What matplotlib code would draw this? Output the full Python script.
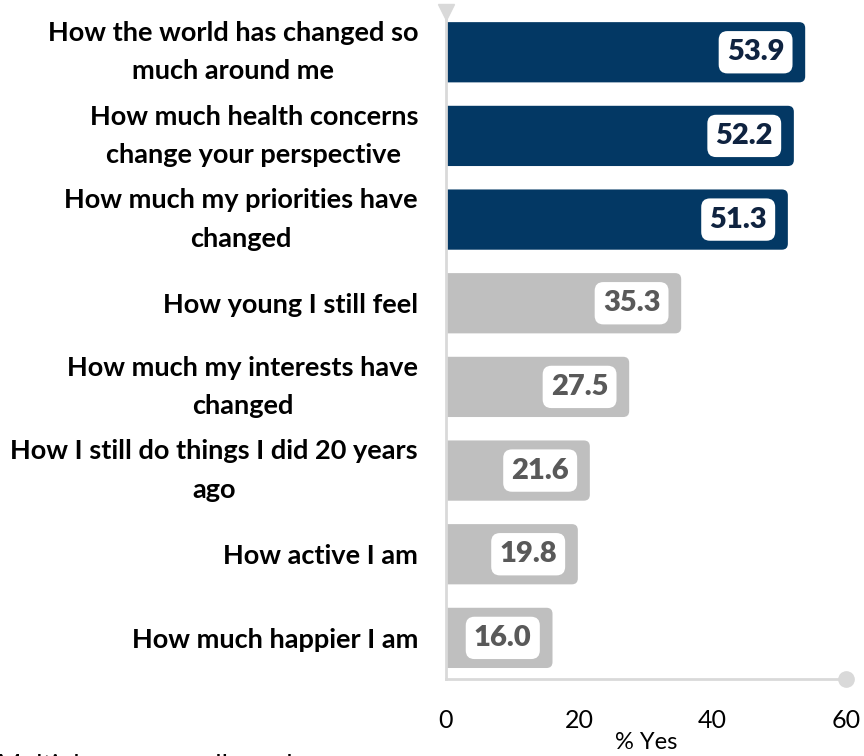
import matplotlib
matplotlib.use("Agg")
import matplotlib.pyplot as plt
from matplotlib.patches import FancyBboxPatch

plt.rcParams['font.family'] = ['Lato', 'DejaVu Sans']

categories = [
    "How the world has changed so\nmuch around me",
    "How much health concerns\nchange your perspective",
    "How much my priorities have\nchanged",
    "How young I still feel",
    "How much my interests have\nchanged",
    "How I still do things I did 20 years\nago",
    "How active I am",
    "How much happier I am",
]
values = [53.9, 52.2, 51.3, 35.3, 27.5, 21.6, 19.8, 16.0]
highlight = [True, True, True, False, False, False, False, False]
x_ticks = [0, 20, 40, 60]

NAVY = "#033864"
GRAY = "#bfbfbf"
AXIS = "#d9d9d9"

fig = plt.figure(figsize=(8.64, 7.56), dpi=100)
ax = fig.add_axes([0.516, 0.102, 0.463, 0.882])

xmin, xmax = 0, 60
ymin, ymax = 7.49, -0.48
ax.set_xlim(xmin, xmax)
ax.set_ylim(ymin, ymax)

# rounded bar corners: convert a pixel radius to data units on each axis
ax_w_px = 0.463 * 864
ax_h_px = 0.882 * 756
x_per_px = (xmax - xmin) / ax_w_px
y_per_px = abs(ymin - ymax) / ax_h_px
radius_px = 6
bar_h = 0.72

for i, (v, hi) in enumerate(zip(values, highlight)):
    color = NAVY if hi else GRAY
    patch = FancyBboxPatch(
        (-3, i - bar_h / 2), v + 3, bar_h,
        boxstyle=f"round,pad=0,rounding_size={radius_px * x_per_px}",
        mutation_aspect=y_per_px / x_per_px,
        fc=color, ec="none", zorder=2,
    )
    ax.add_patch(patch)
    ax.annotate(
        f"{v:.1f}", xy=(v, i), xytext=(-15, 0), textcoords="offset points",
        ha="right", va="center", fontsize=21, fontweight="heavy",
        color="#0f2340" if hi else "#595959", zorder=4,
        bbox=dict(boxstyle="round,pad=0.28,rounding_size=0.3", fc="white", ec="none"),
    )

ax.set_yticks(range(len(categories)))
ax.set_yticklabels(categories, fontsize=19.5, fontweight="bold",
                   multialignment="center", linespacing=1.72)
for lbl in ax.get_yticklabels():
    if "\n" in lbl.get_text():
        lbl.set_verticalalignment("center")
ax.tick_params(axis="y", length=0, pad=20)

ax.set_xticks(x_ticks)
ax.set_xticklabels([str(t) for t in x_ticks], fontsize=18)
ax.tick_params(axis="x", length=0, pad=22)
ax.set_xlabel("% Yes", fontsize=17, labelpad=0)

for side in ("top", "right"):
    ax.spines[side].set_visible(False)
for side in ("left", "bottom"):
    ax.spines[side].set_color(AXIS)
    ax.spines[side].set_linewidth(2)
    ax.spines[side].set_zorder(3)

ax.plot([0], [ymax], marker="v", markersize=11, color=AXIS, clip_on=False, zorder=5)
ax.plot([xmax], [ymin], marker="o", markersize=11, color=AXIS, clip_on=False, zorder=5)

fig.text(-0.003, 0.002, "Multiple answers allowed", fontsize=19, ha="left", va="top")

fig.savefig("out.png", dpi=100)
